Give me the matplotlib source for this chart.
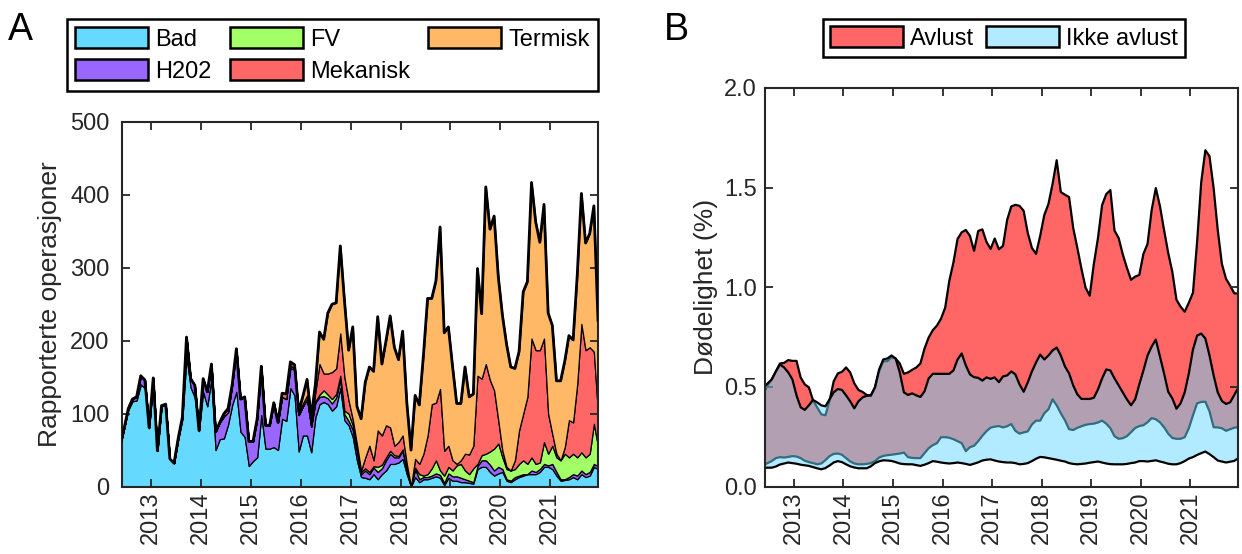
import numpy as np
import matplotlib
matplotlib.use('Agg')
import matplotlib.pyplot as plt
from matplotlib.patches import Patch

plt.rcParams['font.family'] = ['Liberation Sans', 'DejaVu Sans']

# ---------------- data ----------------
start_year, start_month, n_months = 2012, 5, 116   # May 2012 .. Dec 2021, monthly
year_ticks = [2013, 2014, 2015, 2016, 2017, 2018, 2019, 2020, 2021]

# Panel A: reported operations per month (stacked)
bad = [55, 80, 105, 117, 118, 140, 135, 80, 145, 49, 110, 112, 38, 32, 64, 92,
       178, 136, 122, 76, 130, 110, 148, 50, 65, 66, 85, 112, 130, 75, 68, 28,
       35, 40, 98, 52, 52, 54, 50, 93, 90, 135, 125, 48, 70, 70, 47,
       95, 113, 116, 113, 104, 110, 135, 91, 84, 68,
       36, 13, 12, 10, 17, 10, 17, 22, 31, 31, 33, 38, 17,
       0, 13, 6, 10, 10, 12, 14, 12, 2, 12, 8, 8, 6, 6, 5, 4,
       24, 27, 27, 20, 15, 18, 20, 8, 6, 10, 13, 15, 17, 17, 17, 20,
       27, 27, 24, 15, 8, 9, 10, 13, 10, 17, 13, 15, 27, 24]
h202 = [0, 0, 2, 3, 5, 12, 11, 1, 4, 0, 1, 1, 0, 0, 2, 3,
        27, 12, 17, 1, 18, 20, 20, 25, 23, 30, 17, 28, 59, 45, 55, 34,
        27, 53, 67, 32, 32, 61, 38, 30, 30, 28, 35, 50, 40, 50, 35,
        20, 10, 8, 8, 10, 12, 12, 8, 6, 10,
        12, 4, 10, 7, 9, 10, 8, 14, 14, 9, 7, 11, 5,
        0, 11, 4, 3, 3, 3, 4, 4, 3, 6, 6, 6, 6, 4, 3, 2,
        4, 9, 9, 10, 7, 9, 4, 2, 2, 3, 2, 2, 0, 5, 3, 4,
        4, 2, 7, 5, 2, 1, 3, 4, 5, 5, 4, 5, 4, 4]
fv = [0, 0, 0, 0, 0, 0, 0, 0, 0, 0, 0, 0, 0, 0, 0, 0,
      0, 0, 0, 0, 0, 0, 0, 0, 0, 0, 0, 0, 0, 0, 0, 0,
      0, 0, 0, 0, 0, 0, 0, 0, 0, 3, 2, 0, 0, 0, 0,
      2, 3, 8, 5, 6, 5, 5, 5, 10, 6,
      4, 3, 3, 3, 2, 7, 5, 4, 4, 3, 2, 2, 0,
      0, 2, 7, 2, 4, 10, 18, 6, 10, 9, 8, 15, 19, 12, 9, 19,
      3, 7, 9, 18, 30, 32, 16, 14, 14, 11, 16, 19, 14, 18, 11, 9,
      30, 16, 25, 20, 26, 35, 27, 28, 25, 25, 23, 25, 55, 27]
mekanisk = [0, 0, 0, 0, 0, 0, 0, 0, 0, 0, 0, 0, 0, 0, 0, 0,
            0, 0, 0, 0, 0, 0, 0, 0, 0, 4, 5, 0, 0, 0, 0, 0,
            0, 0, 0, 0, 0, 0, 0, 5, 7, 5, 5, 3, 4, 5, 5,
            13, 42, 23, 29, 37, 35, 58, 46, 18, 8,
            6, 2, 15, 36, 8, 50, 40, 44, 32, 13, 19, 19, 9,
            0, 12, 14, 30, 53, 88, 79, 112, 34, 29, 14, 2, 5, 23, 27, 31,
            121, 105, 123, 98, 80, 32, 9, 3, 0, 12, 46, 64, 92, 163, 156, 154,
            142, 55, 16, 5, 0, 9, 51, 43, 101, 176, 147, 146, 99, 45]
termisk = [0, 0, 0, 0, 0, 0, 0, 0, 0, 0, 0, 0, 0, 0, 0, 0,
           0, 0, 0, 0, 0, 0, 0, 0, 0, 0, 0, 0, 0, 0, 0, 0,
           0, 0, 0, 0, 0, 0, 0, 0, 0, 0, 0, 2, 10, 22, 8,
           10, 44, 47, 83, 93, 90, 120, 105, 69, 127,
           52, 71, 103, 108, 122, 156, 98, 116, 153, 135, 113, 143, 84,
           50, 87, 81, 135, 188, 145, 167, 222, 162, 163, 129, 83, 78, 119, 79, 71,
           147, 89, 243, 207, 239, 197, 186, 168, 142, 126, 108, 167, 158, 214, 176, 148,
           184, 138, 149, 100, 109, 118, 116, 113, 149, 179, 147, 156, 200, 128]

# Panel B: mortality (%) bands
avlust_hi = [0.47, 0.51, 0.54, 0.58, 0.62, 0.623, 0.637, 0.633, 0.633, 0.55, 0.515, 0.50,
             0.435, 0.40, 0.365, 0.36, 0.432, 0.53, 0.57, 0.578, 0.60, 0.575, 0.52, 0.487,
             0.477, 0.462, 0.459, 0.50, 0.58, 0.63, 0.632, 0.65, 0.645, 0.62, 0.568, 0.575,
             0.588, 0.60, 0.62, 0.695, 0.75, 0.787, 0.81, 0.845, 0.90, 1.035, 1.127, 1.245,
             1.278, 1.29, 1.26, 1.185, 1.285, 1.293, 1.23, 1.195, 1.247, 1.193, 1.21, 1.34,
             1.408, 1.416, 1.411, 1.386, 1.275, 1.20, 1.17, 1.26, 1.365, 1.42, 1.52, 1.64,
             1.48, 1.467, 1.455, 1.30, 1.20, 1.095, 1.00, 0.96, 1.12, 1.25, 1.415, 1.47,
             1.49, 1.287, 1.25, 1.168, 1.10, 1.04, 1.056, 1.064, 1.17, 1.22, 1.39, 1.50,
             1.41, 1.29, 1.175, 1.08, 0.94, 0.905, 0.88, 0.925, 0.975, 1.23, 1.53, 1.69,
             1.66, 1.50, 1.29, 1.12, 1.045, 1.01, 0.972, 0.971]
avlust_lo = [0.11, 0.12, 0.13, 0.145, 0.15, 0.148, 0.151, 0.155, 0.153, 0.145, 0.132, 0.125,
             0.12, 0.114, 0.118, 0.135, 0.155, 0.166, 0.168, 0.162, 0.145, 0.128, 0.118, 0.114,
             0.114, 0.116, 0.12, 0.13, 0.148, 0.156, 0.16, 0.162, 0.165, 0.168, 0.173, 0.15,
             0.146, 0.145, 0.145, 0.17, 0.195, 0.21, 0.22, 0.25, 0.25, 0.247, 0.24, 0.23,
             0.22, 0.18, 0.20, 0.207, 0.23, 0.257, 0.28, 0.298, 0.303, 0.306, 0.299, 0.305,
             0.316, 0.282, 0.268, 0.274, 0.279, 0.314, 0.333, 0.333, 0.37, 0.39, 0.44, 0.41,
             0.37, 0.335, 0.29, 0.286, 0.297, 0.305, 0.312, 0.316, 0.318, 0.324, 0.333, 0.318,
             0.295, 0.255, 0.242, 0.245, 0.255, 0.275, 0.296, 0.306, 0.31, 0.325, 0.346, 0.34,
             0.325, 0.30, 0.268, 0.246, 0.242, 0.242, 0.25, 0.295, 0.36, 0.42, 0.427, 0.428,
             0.38, 0.30, 0.299, 0.295, 0.282, 0.29, 0.298, 0.30]
ikke_hi = [0.50, 0.52, 0.54, 0.58, 0.615, 0.60, 0.575, 0.54, 0.46, 0.40, 0.387, 0.41,
           0.437, 0.425, 0.41, 0.405, 0.44, 0.475, 0.492, 0.487, 0.46, 0.43, 0.395, 0.43,
           0.45, 0.458, 0.459, 0.50, 0.59, 0.64, 0.645, 0.66, 0.645, 0.575, 0.475, 0.462,
           0.47, 0.46, 0.452, 0.48, 0.545, 0.568, 0.568, 0.568, 0.568, 0.568, 0.585, 0.64,
           0.67, 0.61, 0.565, 0.551, 0.548, 0.534, 0.55, 0.543, 0.55, 0.526, 0.555, 0.56,
           0.58, 0.565, 0.515, 0.478, 0.525, 0.58, 0.625, 0.665, 0.64, 0.66, 0.685, 0.70,
           0.66, 0.605, 0.57, 0.51, 0.465, 0.442, 0.442, 0.442, 0.448, 0.49, 0.545, 0.59,
           0.585, 0.545, 0.51, 0.475, 0.44, 0.41, 0.44, 0.515, 0.585, 0.66, 0.705, 0.74,
           0.655, 0.57, 0.478, 0.445, 0.393, 0.42, 0.475, 0.57, 0.69, 0.76, 0.77, 0.745,
           0.66, 0.56, 0.475, 0.432, 0.417, 0.425, 0.462, 0.50]
ikke_lo = [0.097, 0.097, 0.097, 0.103, 0.113, 0.118, 0.123, 0.12, 0.117, 0.112, 0.109, 0.106,
           0.10, 0.094, 0.089, 0.095, 0.108, 0.123, 0.13, 0.125, 0.114, 0.104, 0.098, 0.094,
           0.094, 0.094, 0.104, 0.12, 0.129, 0.134, 0.133, 0.131, 0.125, 0.118, 0.115, 0.114,
           0.114, 0.11, 0.106, 0.112, 0.12, 0.13, 0.127, 0.123, 0.12, 0.118, 0.12, 0.123,
           0.12, 0.116, 0.111, 0.117, 0.124, 0.133, 0.137, 0.139, 0.133, 0.128, 0.125, 0.123,
           0.123, 0.12, 0.114, 0.116, 0.12, 0.13, 0.142, 0.151, 0.149, 0.145, 0.141, 0.137,
           0.132, 0.128, 0.12, 0.116, 0.114, 0.116, 0.118, 0.122, 0.125, 0.128, 0.123, 0.118,
           0.115, 0.114, 0.114, 0.114, 0.116, 0.12, 0.123, 0.13, 0.13, 0.128, 0.131, 0.134,
           0.128, 0.123, 0.117, 0.114, 0.114, 0.12, 0.13, 0.143, 0.15, 0.161, 0.17, 0.178,
           0.165, 0.15, 0.133, 0.128, 0.123, 0.127, 0.131, 0.145]

labels_A = ['Bad', 'H202', 'FV', 'Mekanisk', 'Termisk']
labels_B = ['Avlust', 'Ikke avlust']

# ---------------- styling ----------------
c_bad = (0.40, 0.85, 1.00)
c_h202 = (0.60, 0.40, 1.00)
c_fv = (0.64, 1.00, 0.40)
c_mek = (1.00, 0.40, 0.40)
c_term = (1.00, 0.72, 0.40)
c_blue_a = (0.40, 0.85, 1.00, 0.5)
axcol = (0.15, 0.15, 0.15)
FS = 17

x = start_year + (start_month - 0.5 + np.arange(n_months)) / 12.0

fig = plt.figure(figsize=(12.42, 5.54), dpi=100)
fig.patch.set_facecolor('white')

def style(ax, ypad):
    for s in ax.spines.values():
        s.set_color(axcol)
        s.set_linewidth(1.5)
    ax.tick_params(direction='in', top=True, right=True, length=6, width=1.3,
                   colors=axcol, labelsize=FS, labelcolor=axcol)
    ax.tick_params(axis='y', pad=ypad)
    ax.set_xticks(year_ticks)
    ax.set_xticklabels([str(y) for y in year_ticks], rotation=90)
    ax.set_xlim(2012.415, x[-1])

# Panel A
axA = fig.add_axes([0.0982, 0.1218, 0.3833, 0.658])
series = [bad, h202, fv, mekanisk, termisk]
colors = [c_bad, c_h202, c_fv, c_mek, c_term]
axA.stackplot(x, *series, colors=colors, edgecolor='k', linewidth=0.9)
axA.plot(x, np.sum(np.array(series), axis=0), color='k', lw=2.0, zorder=3)
axA.set_ylim(0, 500)
axA.set_yticks([0, 100, 200, 300, 400, 500])
axA.set_ylabel('Rapporterte operasjoner', fontsize=19, color=axcol, labelpad=6)
style(axA, 9)

handlesA = [Patch(facecolor=c, edgecolor='k', linewidth=1.8) for c in colors]
legA = fig.legend(handlesA, labels_A, ncol=3, loc='center', mode='expand',
                  bbox_to_anchor=(67/1242, 1-92/554, 531/1242, 74/554),
                  fontsize=FS, handlelength=3.1, handleheight=1.0, handletextpad=0.3,
                  labelspacing=0.35, borderpad=0.35, fancybox=False, framealpha=1,
                  edgecolor='k', borderaxespad=0)
legA.get_frame().set_linewidth(1.8)

# Panel B
axB = fig.add_axes([0.6159, 0.1218, 0.3808, 0.7194])
axB.fill_between(x, avlust_lo, avlust_hi, facecolor=c_mek, edgecolor='k', linewidth=1.6, zorder=1)
axB.fill_between(x, ikke_lo, ikke_hi, facecolor=c_blue_a, edgecolor='k', linewidth=1.6, zorder=2)
axB.set_ylim(0, 2.0)
axB.set_yticks([0, 0.5, 1.0, 1.5, 2.0])
axB.set_yticklabels(['0.0', '0.5', '1.0', '1.5', '2.0'])
axB.set_ylabel('Dødelighet (%)', fontsize=19, color=axcol)
style(axB, 6)

handlesB = [Patch(facecolor=c_mek, edgecolor='k', linewidth=1.8),
            Patch(facecolor=c_blue_a, edgecolor='k', linewidth=1.8)]
legB = fig.legend(handlesB, labels_B, ncol=2, loc='center',
                  bbox_to_anchor=(1004/1242, 1-38/554),
                  fontsize=FS, handlelength=3.1, handleheight=1.0, handletextpad=0.3,
                  columnspacing=0.5, borderpad=0.3, fancybox=False, framealpha=1,
                  edgecolor='k', borderaxespad=0)
legB.get_frame().set_linewidth(1.8)

fig.text(8/1242, 1-40/554, 'A', fontsize=27, color='k')
fig.text(664/1242, 1-40/554, 'B', fontsize=27, color='k')

fig.savefig('out.png', dpi=100)
